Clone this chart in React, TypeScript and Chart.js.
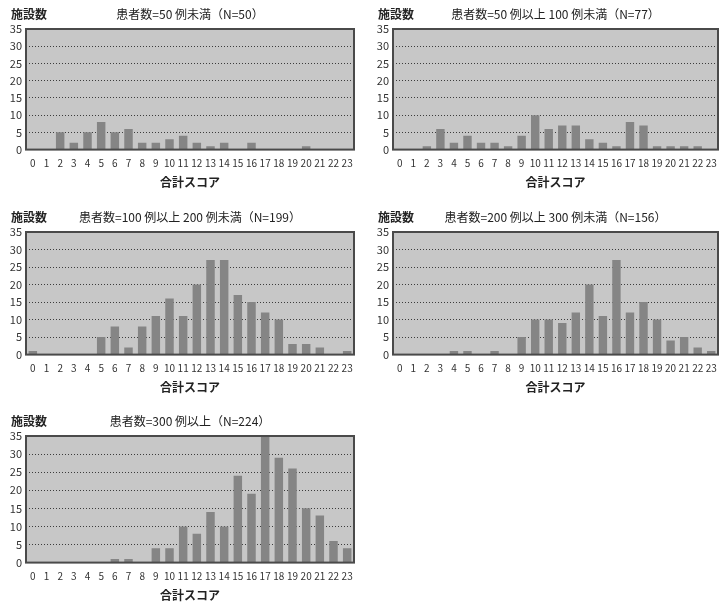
import { useEffect, useRef } from 'react';
import { Chart, registerables } from 'chart.js';

Chart.register(...registerables);

const scoreLabels = ['0', '1', '2', '3', '4', '5', '6', '7', '8', '9', '10', '11', '12', '13', '14', '15', '16', '17', '18', '19', '20', '21', '22', '23'];

const under50 = [0, 0, 5, 2, 5, 8, 5, 6, 2, 2, 3, 4, 2, 1, 2, 0, 2, 0, 0, 0, 1, 0, 0, 0];
const from50to100 = [0, 0, 1, 6, 2, 4, 2, 2, 1, 4, 10, 6, 7, 7, 3, 2, 1, 8, 7, 1, 1, 1, 1, 0];
const from100to200 = [1, 0, 0, 0, 0, 5, 8, 2, 8, 11, 16, 11, 20, 27, 27, 17, 15, 12, 10, 3, 3, 2, 0, 1];
const from200to300 = [0, 0, 0, 0, 1, 1, 0, 1, 0, 5, 10, 10, 9, 12, 20, 11, 27, 12, 15, 10, 4, 5, 2, 1];
const over300 = [0, 0, 0, 0, 0, 0, 1, 1, 0, 4, 4, 10, 8, 14, 10, 24, 19, 35, 29, 26, 15, 13, 6, 4];

const titles = [
  '患者数=50 例未満（N=50）',
  '患者数=50 例以上 100 例未満（N=77）',
  '患者数=100 例以上 200 例未満（N=199）',
  '患者数=200 例以上 300 例未満（N=156）',
  '患者数=300 例以上（N=224）',
];

const yAxisLabel = '施設数';
const xAxisLabel = '合計スコア';

const FONT = "'Noto Sans CJK JP', 'Noto Sans', sans-serif";

const decoPlugin = {
  id: 'panelDeco',
  beforeDraw(chart: any) {
    const { ctx, chartArea } = chart;
    const { left, top, width, height } = chartArea;
    ctx.save();
    ctx.fillStyle = '#c7c7c7';
    ctx.fillRect(left, top, width, height);
    ctx.restore();
  },
  afterDraw(chart: any) {
    const { ctx, chartArea } = chart;
    const { left, top, width, height } = chartArea;
    ctx.save();
    ctx.strokeStyle = '#4a4a4a';
    ctx.lineWidth = 2;
    ctx.strokeRect(left, top, width, height);
    ctx.fillStyle = '#222';
    ctx.font = `bold 12px ${FONT}`;
    ctx.textAlign = 'left';
    ctx.textBaseline = 'middle';
    ctx.fillText(yAxisLabel, left - 15, top - 14.6);
    ctx.restore();
  },
};

type PanelProps = {
  title: string;
  values: number[];
  left: number;
  top: number;
  width: number;
  height: number;
  padRight: number;
};

function Panel({ title, values, left, top, width, height, padRight }: PanelProps) {
  const ref = useRef<HTMLCanvasElement | null>(null);
  useEffect(() => {
    if (!ref.current) return;
    const chart = new Chart(ref.current, {
      type: 'bar',
      data: {
        labels: scoreLabels,
        datasets: [
          {
            data: values,
            backgroundColor: '#858585',
            borderWidth: 0,
            barPercentage: 0.62,
            categoryPercentage: 1,
          },
        ],
      },
      options: {
        responsive: false,
        maintainAspectRatio: false,
        animation: false,
        layout: { padding: { left: 0, right: padRight, top: 0, bottom: 0 } },
        plugins: {
          legend: { display: false },
          tooltip: { enabled: false },
          title: {
            display: true,
            text: title,
            fullSize: false,
            color: '#222',
            font: { size: 12, family: FONT, weight: 'normal' },
            padding: { top: 7, bottom: 7.6 },
          },
        },
        scales: {
          x: {
            grid: { display: false },
            border: { display: false },
            ticks: {
              autoSkip: false,
              maxRotation: 0,
              minRotation: 0,
              padding: 0,
              color: '#333',
              font: { size: 10, family: FONT },
            },
            title: {
              display: true,
              text: xAxisLabel,
              color: '#222',
              font: { size: 12, family: FONT, weight: 'bold' },
              padding: { top: 6, bottom: 2 },
            },
          },
          y: {
            min: 0,
            max: 35,
            ticks: {
              stepSize: 5,
              padding: 4,
              color: '#333',
              font: { size: 11, family: FONT },
            },
            grid: { color: '#3c3c3c', lineWidth: 1, drawTicks: false },
            border: { display: false, dash: [1, 2] },
            afterFit: (scale: any) => {
              scale.width = 26;
            },
          },
        },
      },
      plugins: [decoPlugin],
    } as any);
    return () => chart.destroy();
  }, [title, values, padRight]);

  return (
    <canvas
      ref={ref}
      width={width}
      height={height}
      style={{ position: 'absolute', left, top, width, height }}
    />
  );
}

export default function App() {
  return (
    <div style={{ position: 'absolute', left: 0, top: 0, width: 719, height: 603, background: '#fff' }}>
      <Panel title={titles[0]} values={under50} left={0} top={0} width={360} height={192} padRight={6} />
      <Panel title={titles[1]} values={from50to100} left={367} top={0} width={352} height={192} padRight={1} />
      <Panel title={titles[2]} values={from100to200} left={0} top={203} width={360} height={194} padRight={6} />
      <Panel title={titles[3]} values={from200to300} left={367} top={203} width={352} height={194} padRight={1} />
      <Panel title={titles[4]} values={over300} left={0} top={407} width={360} height={198} padRight={6} />
    </div>
  );
}
